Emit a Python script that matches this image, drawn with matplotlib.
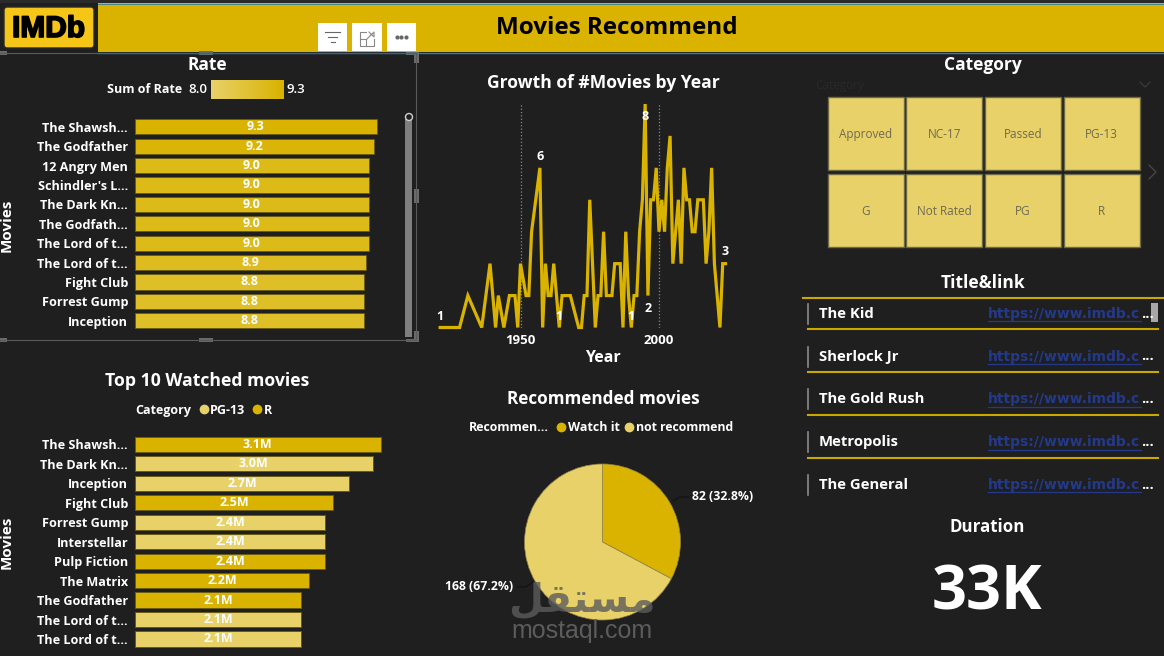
import matplotlib
matplotlib.use("Agg")
import matplotlib.pyplot as plt
import matplotlib.patheffects as pe
from matplotlib.colors import LinearSegmentedColormap
from matplotlib.patches import FancyBboxPatch, Rectangle, Circle

W, H = 1164, 656
BG = "#1f1f1f"
GOLD = "#d9b300"
LIGHT = "#e8d169"
FONT = ["Open Sans", "DejaVu Sans"]

rate_titles = ["The Shawsh...", "The Godfather", "12 Angry Men", "Schindler's L...", "The Dark Kn...",
               "The Godfath...", "The Lord of t...", "The Lord of t...", "Fight Club", "Forrest Gump", "Inception"]
rate_values = [9.3, 9.2, 9.0, 9.0, 9.0, 9.0, 9.0, 8.9, 8.8, 8.8, 8.8]

watched_titles = ["The Shawsh...", "The Dark Kn...", "Inception", "Fight Club", "Forrest Gump", "Interstellar",
                  "Pulp Fiction", "The Matrix", "The Godfather", "The Lord of t...", "The Lord of t..."]
watched_values = [3.1, 3.0, 2.7, 2.5, 2.4, 2.4, 2.4, 2.2, 2.1, 2.1, 2.1]
watched_cats = ["R", "PG-13", "PG-13", "R", "PG-13", "PG-13", "R", "R", "R", "PG-13", "PG-13"]

years = [1921, 1928, 1931, 1936, 1939, 1941, 1942, 1944, 1946, 1948, 1949, 1950, 1952, 1953, 1954, 1957,
         1958, 1959, 1960, 1961, 1962, 1964, 1965, 1968, 1971, 1972, 1973, 1974, 1975, 1976, 1977, 1978,
         1979, 1980, 1981, 1983, 1984, 1986, 1987, 1988, 1989, 1990, 1991, 1992, 1993, 1994, 1995, 1996,
         1997, 1998, 1999, 2000, 2001, 2002, 2003, 2004, 2005, 2006, 2007, 2008, 2009, 2010, 2011, 2012,
         2013, 2014, 2016, 2017, 2018, 2019, 2020, 2022, 2023, 2024]
counts = [1, 1, 2, 1, 3, 1, 2, 1, 2, 2, 1, 3, 2, 2, 4, 6,
          1, 3, 2, 2, 3, 1, 2, 2, 1, 1, 2, 2, 5, 3, 1, 2,
          2, 4, 2, 2, 3, 3, 1, 4, 2, 1, 2, 2, 4, 5, 8, 2,
          5, 5, 6, 4, 5, 4, 6, 7, 3, 4, 5, 3, 6, 5, 5, 4,
          4, 5, 5, 3, 4, 6, 3, 1, 3, 3]
point_labels = {1921: 1, 1957: 6, 1964: 1, 1990: 1, 1995: 8, 1996: 2, 2024: 3}

pie_labels = ["Watch it", "not recommend"]
pie_values = [82, 168]

tile_names = ["Approved", "NC-17", "Passed", "PG-13", "G", "Not Rated", "PG", "R"]
link_titles = ["The Kid", "Sherlock Jr", "The Gold Rush", "Metropolis", "The General"]
link_text = "https://www.imdb.c"
duration = "33K"

plt.rcParams["font.family"] = FONT
fig = plt.figure(figsize=(W / 100, H / 100), dpi=100, facecolor=BG)

# page layer in pixel coordinates, y pointing down
page = fig.add_axes([0, 0, 1, 1])
page.set_xlim(0, W)
page.set_ylim(H, 0)
page.axis("off")
page.set_zorder(5)
page.patch.set_alpha(0)


def px_axes(x0, y0, x1, y1):
    ax = fig.add_axes([x0 / W, 1 - y1 / H, (x1 - x0) / W, (y1 - y0) / H])
    ax.patch.set_alpha(0)
    return ax


def label(x, y, s, size=9, color="white", weight="bold", ha="center", **kw):
    return page.text(x, y + 1.5, s, fontsize=size, color=color, fontweight=weight, ha=ha, va="center", **kw)


def rect(x0, y0, x1, y1, color, **kw):
    page.add_patch(Rectangle((x0, y0), x1 - x0, y1 - y0, facecolor=color, edgecolor=kw.pop("edgecolor", "none"), **kw))


# header
rect(0, 0, W, 3, "#2a2a2a")
rect(98, 3, W, 52, GOLD)
page.plot([98, W], [3.5, 3.5], color="#2f7f9f", lw=0.6)
page.plot([98, W], [52.5, 52.5], color="#2f7f9f", lw=1)
page.add_patch(FancyBboxPatch((6, 9), 86, 37, boxstyle="round,pad=2,rounding_size=3", facecolor="#f5c518",
                              edgecolor="#2a2a2a", lw=1))
logo = label(48.5, 27.5, "IMDb", size=21.5, color="black", family=["Liberation Sans Narrow", "Liberation Sans"])
logo.set_path_effects([pe.withStroke(linewidth=1.2, foreground="black")])
label(617, 26, "Movies Recommend", size=17.5, color="black")

# visual header buttons
for x0, x1 in [(318, 347), (352, 382), (387, 416)]:
    rect(x0, 23, x1, 51, "white")
for x0, x1, y in [(325, 340, 32), (328, 337, 37), (331, 335, 42)]:
    page.plot([x0, x1], [y, y], color="#666666", lw=0.8)
page.plot([366, 360, 360, 374, 374], [32, 32, 46, 46, 39], color="#888888", lw=0.8)
page.plot([360, 366, 366], [39, 39, 46], color="#888888", lw=0.8)
page.plot([367, 374, 374, 369], [39, 32, 37, 32], color="#888888", lw=0.8)
page.plot([396.7, 401.3, 406], [36.7] * 3, ls="none", marker="o", ms=2, color="#666666")

# selection frame round the Rate visual
page.plot([0, 416, 416, 0], [53, 53, 340, 340], color="#5a5a5a", lw=0.8)
for x0, y0, x1, y1 in [(199, 51, 213, 55), (199, 338, 213, 342), (0, 51, 7, 55), (0, 338, 7, 342),
                       (414, 189, 419, 203), (414, 52, 419, 63), (406, 52, 419, 55), (414, 331, 419, 342),
                       (406, 339, 419, 342)]:
    rect(x0, y0, x1, y1, "#6a6a6a")
rect(405, 115, 412, 337, "#7f7f7f")
page.add_patch(Circle((409, 117), 3.5, facecolor=BG, edgecolor="#d0d0d0", lw=1))

# Rate bars
cmap = LinearSegmentedColormap.from_list("rate", [LIGHT, GOLD])
label(207, 63, "Rate", size=12.5)
label(145, 88, "Sum of Rate", size=9)
label(198, 88, "8.0", size=9.5, weight="semibold")
label(296, 88, "9.3", size=9.5, weight="semibold")
bar_key = px_axes(211, 80, 284, 99)
bar_key.imshow([[i / 63 for i in range(64)]], cmap=cmap, aspect="auto")
bar_key.axis("off")


def hbar_panel(y0, y1, titles, values, colors, scale, fmt):
    ax = px_axes(135, y0, 135 + 300, y1)
    pos = list(range(len(titles)))
    ax.barh(pos, values, height=0.78, color=colors, edgecolor="#6b5c14", lw=0.7)
    ax.set_xlim(0, 300 / scale)
    ax.set_ylim(len(titles) - 0.5, -0.5)
    ax.set_yticks(pos)
    ax.set_yticklabels(titles, color="white", fontsize=9.1, fontweight="bold")
    ax.set_xticks([])
    ax.tick_params(axis="y", length=0, pad=5)
    for s in ax.spines.values():
        s.set_visible(False)
    for i, v in enumerate(values):
        ax.text(v / 2, i, fmt.format(v), color="white", fontsize=9, fontweight="bold", ha="center", va="center")
    return ax


rate_colors = [cmap((v - 8.0) / 1.3) for v in rate_values]
hbar_panel(117, 330.5, rate_titles, rate_values, rate_colors, 26.0, "{:.1f}")
label(7, 223.5, "Movies", size=11, rotation=90)

# Top 10 watched bars
label(207, 380, "Top 10 Watched movies", size=12.7)
label(163, 409, "Category", size=9)
page.plot([204], [409], "o", ms=6, color=LIGHT)
label(210, 409, "PG-13", size=9, ha="left")
page.plot([257], [409], "o", ms=6, color=GOLD)
label(264, 409, "R", size=9, ha="left")
watched_colors = [GOLD if c == "R" else LIGHT for c in watched_cats]
hbar_panel(434.7, 648.7, watched_titles, watched_values, watched_colors, 79.2, "{:.1f}M")
label(7, 540.5, "Movies", size=11, rotation=90)

# yearly line
label(603, 82, "Growth of #Movies by Year", size=12.6)
ax = px_axes(437, 104, 728, 327.5)
ax.plot(years, counts, color=GOLD, lw=2.3, solid_joinstyle="miter", clip_on=False)
ax.set_xlim(1950 + (437 - 520.5) / 2.77, 1950 + (728 - 520.5) / 2.77)
ax.set_ylim(1, 8)
ax.set_xticks([1950, 2000])
ax.set_xticklabels(["1950", "2000"], color="white", fontsize=9.5, fontweight="bold")
ax.set_yticks([])
ax.tick_params(axis="x", length=0, pad=5)
ax.xaxis.grid(True, color="#8a8a8a", ls=":", lw=0.9)
ax.set_axisbelow(True)
for s in ax.spines.values():
    s.set_visible(False)
label(603, 356.5, "Year", size=11.5)
lifts = {1921: 11, 1957: 11, 1964: 11, 1990: 11, 1995: -12, 1996: -13, 2024: 12}
for yr, val in point_labels.items():
    ax.annotate(str(val), (yr, val), xytext=(0, lifts[yr]), textcoords="offset pixels", color="white",
                fontsize=9, fontweight="bold", ha="center", va="center", annotation_clip=False)

# recommended pie
label(603, 398, "Recommended movies", size=12.3)
label(509, 426, "Recommen...", size=8.9)
page.plot([561], [427], "o", ms=6, color=GOLD)
label(568, 426, pie_labels[0], size=9, ha="left")
page.plot([629], [427], "o", ms=6, color=LIGHT)
label(636, 426, pie_labels[1], size=8.8, ha="left")
pie_ax = px_axes(602.5 - 78, 542 - 78, 602.5 + 78, 542 + 78)
pie_ax.pie(pie_values, colors=[GOLD, LIGHT], startangle=90, counterclock=False, radius=1,
           wedgeprops={"edgecolor": "#8f8243", "lw": 0.5})
pie_ax.set_xlim(-1, 1)
pie_ax.set_ylim(-1, 1)
total = sum(pie_values)
label(692, 495.5, f"{pie_values[0]} ({pie_values[0] / total:.1%})", size=8.8, ha="left")
label(513, 585.5, f"{pie_values[1]} ({pie_values[1] / total:.1%})", size=8.8, ha="right")
page.plot([673, 680, 689], [501, 497, 497], color="#111111", lw=0.8)
page.plot([517, 526, 533], [587, 587, 582], color="#111111", lw=0.8)

# category slicer tiles
label(983, 63, "Category", size=12.5)
label(815, 84, "Category", size=8.5, color="#292929", weight="normal", ha="left")
page.plot([1140, 1145, 1150], [82, 87, 82], color="#3d3d3d", lw=0.8)
page.plot([1149, 1156, 1149], [165, 172, 179], color="#4a4a4a", lw=0.9)
for i, name in enumerate(tile_names):
    col, row = i % 4, i // 4
    x0 = 827.5 + col * 78.7
    y0 = 97 + row * 76.8
    rect(x0, y0, x0 + 76.2, y0 + 72.7, LIGHT, edgecolor="#6e6a45", lw=1)
    label(x0 + 38.1, y0 + 36, name, size=8.5, color="#6f6a50", weight="normal")

# title and link table
label(983, 282, "Title&link", size=12.5)
page.plot([803, W], [297.5, 297.5], color="#c9a800", lw=1.5)
for i, name in enumerate(link_titles):
    yc = 313.7 + i * 42.8
    page.plot([808, 808], [yc - 10, yc + 10], color="#8a8a8a", lw=1.2)
    label(819, yc - 1.5, name, size=10.7, ha="left")
    label(988, yc - 1.5, link_text, size=10, color="#233a8c", ha="left", family=["DejaVu Sans"])
    page.plot([988, 1141], [yc + 7.5, yc + 7.5], color="#233a8c", lw=0.9)
    label(1141, yc - 1.5, "...", size=10.5, ha="left")
    if i < 4:
        page.plot([808, 1158], [yc + 15.5, yc + 15.5], color="#c9a800", lw=1.5)
rect(1151, 303, 1158, 322, "#a8a8a8")

# duration card
label(987, 525, "Duration", size=12.2)
label(987, 592.5, duration, size=44)

# site watermark
page.text(582, 601, "\ufede\ufed8\ufe98\ufeb4\ufee3", fontsize=29, fontweight="bold", color="#5c5c5c", alpha=0.8,
          ha="center", va="center", family=["DejaVu Sans"], zorder=20)
page.text(582, 631, "mostaql.com", fontsize=18, color="#5c5c5c", ha="center", va="center",
          family=["Liberation Sans"], zorder=20)

fig.savefig("out.png", dpi=100, facecolor=BG)
